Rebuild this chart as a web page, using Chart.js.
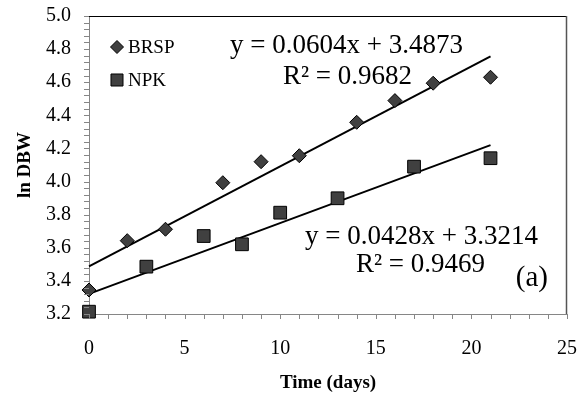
<!DOCTYPE html>
<html>
<head>
<meta charset="utf-8">
<script src="https://cdn.jsdelivr.net/npm/chart.js@4/dist/chart.umd.min.js"></script>
<style>
html,body{margin:0;padding:0;background:#fff;}
#wrap{width:586px;height:394px;}
</style>
</head>
<body>
<div id="wrap"><canvas id="c" width="586" height="394"></canvas></div>
<script>
// ---- data ----
const brspDays = [0, 2, 4, 7, 9, 11, 14, 16, 18, 21];
const brspLnDBW = [3.345, 3.643, 3.712, 3.993, 4.12, 4.156, 4.358, 4.489, 4.594, 4.63];
const npkDays = [0, 3, 6, 8, 10, 13, 17, 21];
const npkLnDBW = [3.214, 3.486, 3.671, 3.621, 3.812, 3.899, 4.09, 4.141];
// trendline end points (x = 0 and x = 21) from the fitted equations shown
const trendDays = [0, 21];
const brspTrend = [3.4873, 4.7557];
const npkTrend = [3.3214, 4.2202];
const seriesNames = ['BRSP', 'NPK'];
const brspEquation = ['y = 0.0604x + 3.4873', 'R\u00B2 = 0.9682'];
const npkEquation = ['y = 0.0428x + 3.3214', 'R\u00B2 = 0.9469'];
const panelLabel = '(a)';
const xTitle = 'Time (days)';
const yTitle = 'ln DBW';

const SERIF = '"Liberation Serif", "Times New Roman", serif';
const AXIS_GRAY = '#868686';
const pts = (xs, ys) => xs.map((x, i) => ({x: x, y: ys[i]}));

const legendPlugin = {
  id: 'innerLegend',
  afterDraw(chart) {
    const ctx = chart.ctx, a = chart.chartArea;
    const items = [
      {ds: chart.data.datasets[0], dy: 31, r: 6.5},
      {ds: chart.data.datasets[1], dy: 64, r: 8.5}
    ];
    ctx.save();
    ctx.font = '19px ' + SERIF;
    ctx.textBaseline = 'middle';
    ctx.textAlign = 'left';
    items.forEach(it => {
      ctx.fillStyle = it.ds.backgroundColor;
      ctx.strokeStyle = it.ds.borderColor;
      ctx.lineWidth = 1;
      Chart.helpers.drawPoint(ctx, {pointStyle: it.ds.pointStyle, radius: it.r, borderWidth: 1, rotation: 0}, a.left + 28, a.top + it.dy);
      ctx.fillStyle = '#000';
      ctx.fillText(it.ds.label, a.left + 39, a.top + it.dy + 1);
    });
    ctx.restore();
  }
};

const tickPlugin = {
  id: 'tickMarks',
  afterDraw(chart) {
    const ctx = chart.ctx, a = chart.chartArea;
    const xs = chart.scales.x, ys = chart.scales.y;
    ctx.save();
    ctx.strokeStyle = AXIS_GRAY;
    ctx.lineWidth = 1;
    xs.ticks.forEach(t => {
      const px = Math.round(xs.getPixelForValue(t.value)) + 0.5;
      ctx.beginPath();
      ctx.moveTo(px, a.bottom);
      ctx.lineTo(px, a.bottom + 5);
      ctx.stroke();
    });
    ys.ticks.forEach(t => {
      const py = Math.round(ys.getPixelForValue(t.value)) + 0.5;
      ctx.beginPath();
      ctx.moveTo(a.left - 5, py);
      ctx.lineTo(a.left, py);
      ctx.stroke();
    });
    ctx.restore();
  }
};

const textPlugin = {
  id: 'eqText',
  afterDatasetsDraw(chart) {
    const ctx = chart.ctx, a = chart.chartArea;
    ctx.save();
    ctx.strokeStyle = '#000';
    ctx.lineWidth = 1;
    ctx.beginPath();
    ctx.moveTo(a.left, a.top + 0.5);
    ctx.lineTo(a.right - 0.5, a.top + 0.5);
    ctx.stroke();
    ctx.strokeStyle = '#555';
    ctx.lineWidth = 1.5;
    ctx.beginPath();
    ctx.moveTo(a.right - 0.5, a.top);
    ctx.lineTo(a.right - 0.5, a.bottom);
    ctx.stroke();

    ctx.fillStyle = '#000';
    ctx.textAlign = 'right';
    ctx.textBaseline = 'middle';
    ctx.font = '27px ' + SERIF;
    ctx.fillText(brspEquation[0], a.left + 374, a.top + 30);
    ctx.fillText(brspEquation[1], a.left + 323, a.top + 61);
    ctx.fillText(npkEquation[0], a.left + 449, a.top + 221);
    ctx.fillText(npkEquation[1], a.left + 396, a.top + 249);
    ctx.font = '29px ' + SERIF;
    ctx.fillText(panelLabel, a.left + 459, a.top + 262);
    ctx.restore();
  }
};

new Chart(document.getElementById('c'), {
  type: 'scatter',
  data: {
    datasets: [
      {label: seriesNames[0], data: pts(brspDays, brspLnDBW), pointStyle: 'rectRot', pointRadius: 7,
       backgroundColor: '#404040', borderColor: '#000', borderWidth: 1, showLine: false, clip: false},
      {label: seriesNames[1], data: pts(npkDays, npkLnDBW), pointStyle: 'rect', pointRadius: 9,
       backgroundColor: '#404040', borderColor: '#000', borderWidth: 1, showLine: false, clip: false},
      {label: 'BRSP trend', data: pts(trendDays, brspTrend), showLine: true, pointRadius: 0,
       borderColor: '#000', borderWidth: 2, backgroundColor: '#000', clip: false},
      {label: 'NPK trend', data: pts(trendDays, npkTrend), showLine: true, pointRadius: 0,
       borderColor: '#000', borderWidth: 2, backgroundColor: '#000', clip: false}
    ]
  },
  options: {
    responsive: false,
    animation: false,
    events: [],
    layout: {padding: {top: 16, right: 19, left: 0, bottom: 0}},
    plugins: {legend: {display: false}, tooltip: {enabled: false}},
    scales: {
      x: {
        type: 'linear', min: 0, max: 25,
        afterFit(s) { s.height = 80; s.paddingLeft = 0; s.paddingRight = 0; },
        grid: {drawOnChartArea: false, drawTicks: true, tickLength: 5, color: AXIS_GRAY, tickColor: 'rgba(0,0,0,0)'},
        border: {color: AXIS_GRAY, width: 1},
        ticks: {
          stepSize: 1, autoSkip: false, maxRotation: 0, padding: 18,
          color: '#000', font: {family: SERIF, size: 20},
          callback: v => (Math.round(v) % 5 === 0 ? String(Math.round(v)) : '')
        },
        title: {display: true, text: xTitle, color: '#000', font: {family: SERIF, size: 19, weight: 'bold'}, padding: {top: 0, bottom: 0}}
      },
      y: {
        type: 'linear', min: 3.2, max: 5.0,
        afterFit(s) { s.width = 89; s.paddingTop = 0; s.paddingBottom = 0; },
        grid: {drawOnChartArea: false, drawTicks: true, tickLength: 5, color: AXIS_GRAY, tickColor: 'rgba(0,0,0,0)'},
        border: {color: AXIS_GRAY, width: 1},
        ticks: {
          stepSize: 0.04, autoSkip: false, padding: 13,
          color: '#000', font: {family: SERIF, size: 20},
          callback: v => (Math.round(v * 100) % 20 === 0 ? v.toFixed(1) : '')
        },
        title: {display: true, text: yTitle, color: '#000', font: {family: SERIF, size: 19, weight: 'bold'}, padding: {top: 14, bottom: 0}}
      }
    }
  },
  plugins: [textPlugin, tickPlugin, legendPlugin]
});
</script>
</body>
</html>
